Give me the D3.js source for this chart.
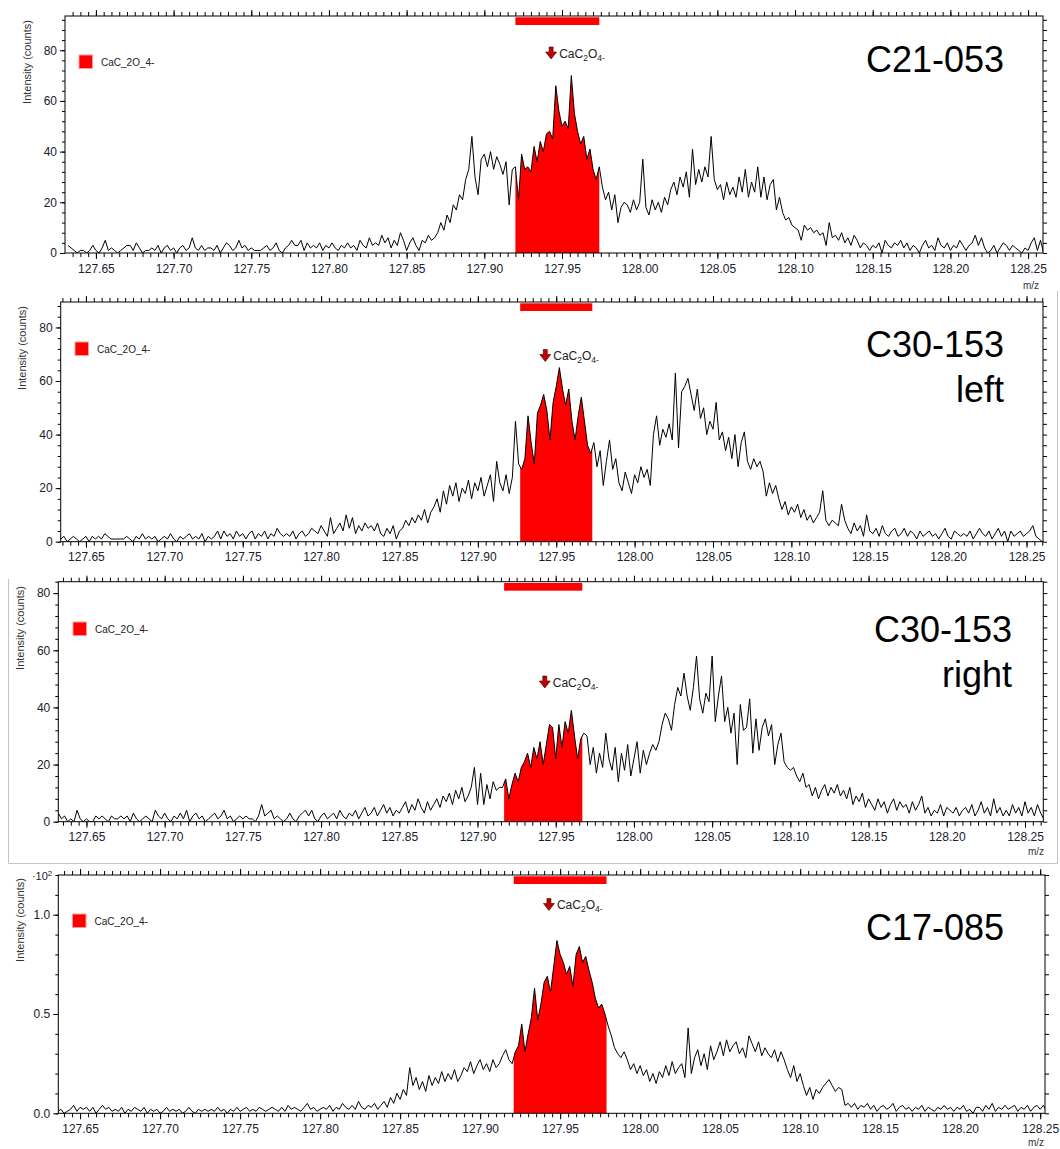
<!DOCTYPE html>
<html>
<head>
<meta charset="utf-8">
<script src="https://cdn.jsdelivr.net/npm/d3@7"></script>
<style>
body { margin: 0; background: #fff; }
svg { font-family: "Liberation Sans", Arial, sans-serif; }
</style>
</head>
<body>
<svg id="chart" width="1060" height="1149"></svg>
<script>
// m/z bins shared by the four spectra
var mzStart = 127.632;
var mzStep = 0.002;

var c21_053 = [
    3,2,1,0,1,1,0,1,3,1, 0,2,5,1,2,1,0,1,2,3, 3,1,4,2,0,1,1,2,1,3, 0,2,3,1,2,0,2,3,1,2,
    6,2,1,3,1,2,2,1,3,0, 2,4,3,1,2,5,2,3,1,2, 1,1,1,2,3,1,2,4,1,0, 2,3,5,3,3,5,1,4,2,3,
    2,4,1,3,2,4,2,1,3,2, 4,2,3,1,5,3,2,6,3,4, 3,7,4,6,2,5,3,8,5,1, 4,6,3,1,5,4,7,5,6,8,
    12,9,15,12,19,17,23,21,29,33, 46,30,23,37,39,34,40,33,38,35, 31,36,19,33,34,21,39,33,34,32,
    42,36,44,40,47,48,45,66,56,50, 52,49,70,55,48,43,46,37,41,33, 29,34,26,21,24,17,23,12,18,20,
    19,16,21,17,20,37,18,15,21,17, 20,16,22,19,25,28,23,30,26,32, 22,41,27,33,28,34,30,46,29,25,
    27,21,28,23,26,22,30,24,33,22, 28,24,34,22,30,21,27,29,17,22, 16,13,14,11,10,9,5,11,9,10,
    8,9,7,8,3,12,6,7,5,8, 4,6,3,7,5,2,4,3,1,3, 2,4,0,5,3,2,4,3,5,2, 4,1,3,2,0,3,5,2,3,1,
    6,3,2,4,1,3,2,5,3,1, 3,4,7,3,6,2,0,1,3,0, 2,4,3,1,3,2,1,0,2,1, 4,6,1,5,0,2
];

var c30_153_left = [
    2,1,2,0,1,2,1,0,1,2, 0,2,1,2,1,3,2,1,1,1, 1,1,2,1,0,2,1,3,1,2, 1,2,0,1,2,1,3,1,0,2,
    1,2,3,1,2,1,3,0,2,1, 2,4,1,4,2,3,1,4,2,3, 1,3,4,1,3,2,4,1,3,2, 5,3,2,3,2,4,1,3,4,2,
    3,5,4,3,6,4,2,9,3,5, 7,4,10,5,9,3,6,4,7,5, 6,4,7,3,2,5,3,6,1,4, 5,8,6,9,7,10,8,12,7,11,
    13,16,11,19,14,21,17,22,15,20, 18,23,16,22,19,24,17,21,25,15, 30,22,19,25,18,24,45,29,27,31,
    47,37,29,48,51,55,49,38,52,58, 65,57,51,57,45,38,47,54,45,36, 33,37,28,34,21,30,38,27,31,22,
    19,26,22,18,25,22,28,24,27,21, 40,47,36,42,39,44,38,63,35,56, 58,61,55,49,57,46,50,40,45,42,
    52,38,41,34,39,31,40,28,37,41, 30,27,31,28,30,26,17,22,18,21, 16,12,15,10,13,11,14,9,12,8,
    10,7,9,11,19,8,6,8,7,6, 14,8,5,3,7,4,6,2,10,4, 3,5,2,6,3,2,4,5,2,3, 5,2,4,3,1,4,2,3,4,2,
    3,1,3,5,2,1,4,3,2,3, 2,4,1,3,5,3,2,4,1,3, 5,2,4,0,4,2,3,4,2,3, 4,6,2,1,0,1
];

var c30_153_right = [
    3,1,2,0,1,0,4,1,0,1, 0,0,2,1,2,1,0,2,1,1, 2,1,2,0,3,1,0,1,2,1, 0,4,2,1,3,1,0,2,1,3,
    1,4,0,2,3,1,2,0,1,2, 3,1,2,4,1,2,0,1,2,1, 2,1,1,0,2,6,2,3,4,1, 2,1,0,1,3,1,0,2,3,4,
    2,4,1,0,2,3,1,2,3,1, 4,2,1,3,2,4,1,3,5,2, 3,5,2,4,6,3,5,2,4,3, 5,7,3,6,4,8,5,3,7,4,
    6,8,5,9,7,10,6,11,8,12, 7,9,12,19,6,17,6,13,8,14, 11,12,12,15,8,13,17,14,19,21,
    24,19,26,22,28,20,27,34,33,22, 34,26,35,31,39,30,22,29,31,30, 20,26,17,24,19,31,22,18,26,14,
    24,18,27,16,22,28,17,25,20,24, 27,25,28,34,38,36,32,41,47,44, 52,44,39,47,58,43,38,45,42,58,
    35,44,51,35,40,31,38,20,41,32, 33,43,24,36,25,33,36,30,34,20, 27,31,21,19,18,19,16,14,17,12,
    13,9,12,8,11,13,9,12,10,13, 9,11,8,12,6,9,7,10,5,8, 6,4,8,5,7,3,6,8,4,7, 5,6,3,7,4,6,9,3,5,2,
    4,3,6,2,5,4,3,5,2,4, 5,3,6,2,4,7,3,5,2,8, 3,5,2,4,2,6,3,5,2,7, 3,5,2,6,3,1
];

// intensities in units of 10^2 counts
var c17_085 = [
    .01,.02,.01,.02,.00,.01,.02,.04,.01,.03, .02,.03,.01,.03,.00,.02,.04,.02,.03,.01,
    .02,.01,.03,.00,.02,.01,.03,.02,.01,.03, .00,.02,.01,.02,.00,.01,.03,.01,.02,.01,
    .02,.00,.01,.03,.01,.00,.02,.01,.02,.01, .02,.01,.03,.01,.02,.00,.02,.01,.03,.01,
    .02,.03,.01,.02,.01,.03,.02,.01,.02,.03, .02,.01,.03,.01,.04,.02,.03,.02,.01,.03,
    .05,.02,.03,.01,.02,.03,.02,.04,.01,.03, .02,.05,.03,.02,.04,.02,.06,.03,.02,.04,
    .03,.05,.02,.04,.06,.03,.08,.05,.10,.07, .12,.09,.23,.14,.18,.12,.16,.11,.19,.14,
    .18,.15,.21,.16,.20,.17,.22,.16,.19,.23, .21,.26,.20,.24,.27,.22,.25,.21,.27,.23,
    .25,.29,.32,.27,.25,.31,.34,.45,.31,.40, .48,.63,.47,.55,.66,.69,.61,.74,.87,.80,
    .76,.70,.74,.64,.80,.84,.76,.79,.72,.66, .58,.53,.55,.50,.44,.39,.33,.30,.28,.31,
    .27,.22,.25,.20,.24,.19,.22,.16,.20,.15, .21,.18,.24,.19,.26,.20,.23,.25,.18,.43,
    .20,.28,.32,.24,.30,.22,.34,.27,.31,.36, .29,.37,.31,.34,.36,.30,.33,.28,.39,.35,
    .31,.36,.29,.33,.30,.28,.32,.26,.31,.27, .22,.18,.24,.16,.20,.14,.09,.13,.07,.12,
    .10,.13,.15,.17,.14,.11,.13,.12,.04,.05, .03,.05,.02,.04,.03,.05,.02,.04,.01,.03,
    .04,.02,.03,.05,.01,.03,.04,.02,.03,.01, .03,.02,.04,.01,.03,.02,.01,.03,.02,.04,
    .02,.03,.01,.03,.02,.04,.01,.02,.00,.03, .03,.01,.04,.02,.05,.01,.03,.02,.04,.02,
    .03,.04,.01,.03,.02,.04,.01,.03,.04,.02, .04,.01,.03,.02,.01,.02
];

var spectra = [c21_053, c30_153_left, c30_153_right, c17_085];
var sampleNames = [['C21-053'], ['C30-153', 'left'], ['C30-153', 'right'], ['C17-085']];
var xDomains = [[127.6301, 128.2596], [127.6339, 128.2605], [127.6320, 128.2617], [127.6364, 128.2530]];
var yMaxima = [93.5, 89.5, 84, 1.2];
var fillRanges = [[127.920, 127.974], [127.927, 127.973], [127.917, 127.967], [127.921, 127.979]];
var peakMass = 127.943;
var xTickValues = [127.65, 127.70, 127.75, 127.80, 127.85, 127.90, 127.95, 128.00, 128.05, 128.10, 128.15, 128.20, 128.25];
var yTickValues = [[0, 20, 40, 60, 80], [0, 20, 40, 60, 80], [0, 20, 40, 60, 80], [0, 0.5, 1.0]];
var yMinorStep = [4, 4, 4, 0.1];
var legendLabel = 'CaC_2O_4-';
var yTitle = 'Intensity (counts)';

var layout = [
    { top: 16, bottom: 253, left: 65, right: 1043, yTitleX: 27, yTitleY: 62, legendX: 79, legendY: 55,
      arrowTip: 59, titleX: 1004, titleY: 72, mzLabel: [1031, 289] },
    { top: 302, bottom: 541.7, left: 60.7, right: 1043, yTitleX: 22, yTitleY: 348, legendX: 75, legendY: 342,
      arrowTip: 361.5, titleX: 1004, titleY: 357, mzLabel: null },
    { top: 581.7, bottom: 821.7, left: 58.3, right: 1043.3, yTitleX: 20, yTitleY: 628, legendX: 73, legendY: 622,
      arrowTip: 688, titleX: 1012, titleY: 642, mzLabel: [1036, 855] },
    { top: 875, bottom: 1113.3, left: 58.3, right: 1045, yTitleX: 20, yTitleY: 920, legendX: 72.5, legendY: 914,
      arrowTip: 910.5, titleX: 1004, titleY: 940, mzLabel: [1036, 1146] }
];

var svg = d3.select('#chart');
var defs = svg.append('defs');

// light frame around the third spectrum
var frame = svg.append('g')
    .attr('stroke', '#c4c4c4')
    .attr('stroke-width', 1)
    .attr('fill', 'none');
frame.append('path').attr('d', 'M1057.5,291 V863.5 H8.5 V579');

spectra.forEach(function(values, i) {
    drawPanel(i);
});

function styleAxis(sel, labelled) {
    sel.select('.domain').remove();
    sel.selectAll('line').attr('stroke', '#000').attr('stroke-width', 1);
    sel.selectAll('text')
        .attr('fill', '#20202c')
        .style('font-size', labelled ? '12px' : '0px');
}

function drawPanel(i) {
    var p = layout[i];
    var g = svg.append('g').attr('class', 'panel');

    var x = d3.scaleLinear().domain(xDomains[i]).range([p.left, p.right]);
    var y = d3.scaleLinear().domain([0, yMaxima[i]]).range([p.bottom, p.top]);

    var points = spectra[i].map(function(v, j) {
        return { mz: mzStart + j * mzStep, v: v };
    });

    defs.append('clipPath')
        .attr('id', 'plot' + i)
        .append('rect')
        .attr('x', p.left)
        .attr('y', p.top)
        .attr('width', p.right - p.left)
        .attr('height', p.bottom - p.top);

    defs.append('clipPath')
        .attr('id', 'fill' + i)
        .append('rect')
        .attr('x', x(fillRanges[i][0]))
        .attr('y', p.top)
        .attr('width', x(fillRanges[i][1]) - x(fillRanges[i][0]))
        .attr('height', p.bottom - p.top);

    var area = d3.area()
        .x(function(d) { return x(d.mz); })
        .y0(y(0))
        .y1(function(d) { return y(d.v); });

    var line = d3.line()
        .x(function(d) { return x(d.mz); })
        .y(function(d) { return y(d.v); });

    g.append('path')
        .datum(points)
        .attr('clip-path', 'url(#fill' + i + ')')
        .attr('fill', '#ff0000')
        .attr('d', area);

    g.append('path')
        .datum(points)
        .attr('clip-path', 'url(#plot' + i + ')')
        .attr('fill', 'none')
        .attr('stroke', '#000')
        .attr('stroke-width', 1)
        .attr('stroke-linejoin', 'round')
        .attr('d', line);

    // integration window marker along the top
    g.append('rect')
        .attr('x', x(fillRanges[i][0]))
        .attr('y', p.top + 1.3)
        .attr('width', x(fillRanges[i][1]) - x(fillRanges[i][0]))
        .attr('height', 7.7)
        .attr('fill', '#ff0000');

    // axes
    var xMinor = d3.range(0, 140).map(function(k) { return +(127.60 + k * 0.005).toFixed(3); })
        .filter(function(v) { return v >= xDomains[i][0] && v <= xDomains[i][1]; });
    var yMinor = d3.range(0, 40).map(function(k) { return +(k * yMinorStep[i]).toFixed(2); })
        .filter(function(v) { return v <= yMaxima[i]; });

    var fmtY = i === 3 ? d3.format('.1f') : d3.format('d');

    g.append('g').attr('transform', 'translate(0,' + p.bottom + ')')
        .call(d3.axisBottom(x).tickValues(xMinor).tickSize(4).tickFormat(''))
        .call(styleAxis, false);
    g.append('g').attr('transform', 'translate(0,' + p.bottom + ')')
        .call(d3.axisBottom(x).tickValues(xTickValues).tickSize(6).tickPadding(5).tickFormat(d3.format('.2f')))
        .call(styleAxis, true);
    g.append('g').attr('transform', 'translate(0,' + p.top + ')')
        .call(d3.axisTop(x).tickValues(xMinor).tickSize(4).tickFormat(''))
        .call(styleAxis, false);
    g.append('g').attr('transform', 'translate(0,' + p.top + ')')
        .call(d3.axisTop(x).tickValues(xTickValues).tickSize(6).tickFormat(''))
        .call(styleAxis, false);
    g.append('g').attr('transform', 'translate(' + p.left + ',0)')
        .call(d3.axisLeft(y).tickValues(yMinor).tickSize(3).tickFormat(''))
        .call(styleAxis, false);
    g.append('g').attr('transform', 'translate(' + p.left + ',0)')
        .call(d3.axisLeft(y).tickValues(yTickValues[i]).tickSize(5).tickPadding(3).tickFormat(fmtY))
        .call(styleAxis, true);
    g.append('g').attr('transform', 'translate(' + p.right + ',0)')
        .call(d3.axisRight(y).tickValues(yMinor).tickSize(4).tickFormat(''))
        .call(styleAxis, false);

    g.append('rect')
        .attr('x', p.left)
        .attr('y', p.top)
        .attr('width', p.right - p.left)
        .attr('height', p.bottom - p.top)
        .attr('fill', 'none')
        .attr('stroke', '#000')
        .attr('stroke-width', 1);

    if (i === 3) {
        var mult = g.append('text')
            .attr('x', p.left - 6)
            .attr('y', p.top + 5)
            .attr('text-anchor', 'end')
            .attr('fill', '#20202c')
            .style('font-size', '11px');
        mult.append('tspan').text('\u00b710');
        mult.append('tspan').attr('dy', -4).style('font-size', '8px').text('2');
    }

    g.append('text')
        .attr('transform', 'translate(' + p.yTitleX + ',' + p.yTitleY + ') rotate(-90)')
        .attr('text-anchor', 'middle')
        .attr('dy', '0.35em')
        .attr('fill', '#333')
        .style('font-size', '11px')
        .text(yTitle);

    // legend
    g.append('rect')
        .attr('x', p.legendX)
        .attr('y', p.legendY)
        .attr('width', 13.5)
        .attr('height', 13.5)
        .attr('fill', '#ff0000')
        .attr('stroke', '#ff9a9a')
        .attr('stroke-width', 1);
    g.append('text')
        .attr('x', p.legendX + 22)
        .attr('y', p.legendY + 7)
        .attr('dy', '0.35em')
        .attr('fill', '#222')
        .style('font-size', '10px')
        .text(legendLabel);

    // peak assignment arrow
    var ax = x(peakMass);
    var tip = p.arrowTip;
    g.append('path')
        .attr('d', 'M' + (ax - 2) + ',' + (tip - 12) + ' h4 v5 h3.5 L' + ax + ',' + tip +
            ' L' + (ax - 5.5) + ',' + (tip - 7) + ' h3.5 Z')
        .attr('fill', '#c00000')
        .attr('stroke', '#3a0000')
        .attr('stroke-width', 0.6);

    var peak = g.append('text')
        .attr('x', ax + 8)
        .attr('y', tip - 1.5)
        .attr('fill', '#222')
        .style('font-size', '12px');
    peak.append('tspan').text('CaC');
    peak.append('tspan').attr('dy', 3).style('font-size', '8.5px').text('2');
    peak.append('tspan').attr('dy', -3).text('O');
    peak.append('tspan').attr('dy', 3).style('font-size', '8.5px').text('4-');

    // sample name
    sampleNames[i].forEach(function(name, k) {
        g.append('text')
            .attr('x', p.titleX)
            .attr('y', p.titleY + k * 45)
            .attr('text-anchor', 'end')
            .attr('fill', '#000')
            .style('font-size', '36px')
            .text(name);
    });

    if (p.mzLabel) {
        g.append('text')
            .attr('x', p.mzLabel[0])
            .attr('y', p.mzLabel[1])
            .attr('text-anchor', 'middle')
            .attr('fill', '#333')
            .style('font-size', '10px')
            .text('m/z');
    }
}
</script>
</body>
</html>
